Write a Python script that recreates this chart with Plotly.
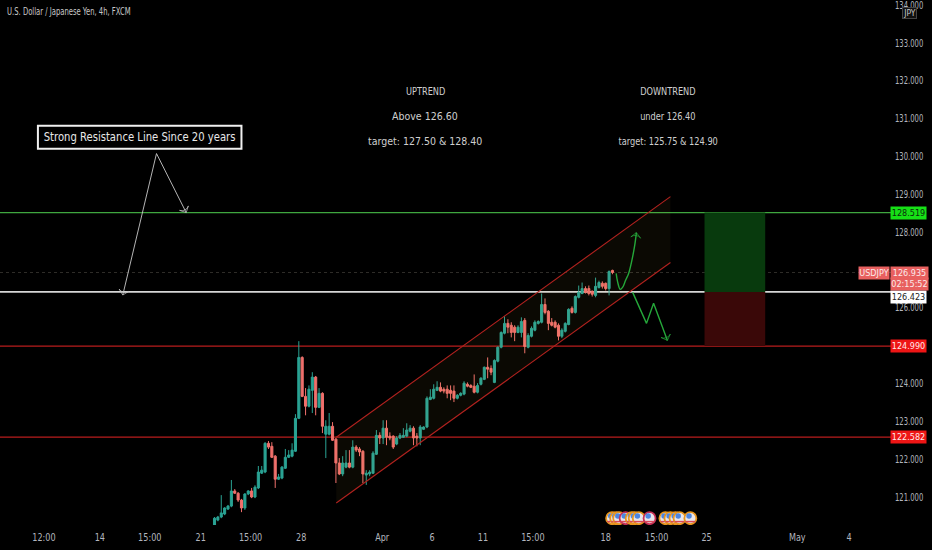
import plotly.graph_objects as go

FONT = "DejaVu Sans Condensed, Liberation Sans, sans-serif"

candle_index = list(range(119))
opens = [120.18,120.39,120.47,120.55,120.68,120.76,121.16,121.10,120.92,120.71,121.08,121.16,121.00,121.24,121.63,121.66,122.42,122.34,122.08,121.47,121.50,121.76,122.05,122.08,122.21,123.08,124.69,123.66,123.40,123.82,124.17,123.37,123.74,122.66,122.66,122.87,122.53,121.90,121.61,121.79,121.90,121.79,122.32,122.27,122.21,121.58,121.61,121.63,122.13,122.63,122.56,122.82,122.61,122.61,122.40,122.56,122.58,122.61,122.74,122.82,122.61,122.56,122.79,122.85,123.58,123.61,123.82,123.90,123.85,123.85,123.82,123.80,123.61,123.69,123.72,123.98,123.95,123.93,123.77,123.98,124.11,124.43,124.40,124.03,124.59,124.96,125.33,125.59,125.54,125.49,125.35,125.35,125.67,124.96,125.25,125.41,125.59,125.62,126.09,125.91,125.62,125.62,125.54,125.25,125.38,125.56,125.99,125.88,126.28,126.38,126.51,126.51,126.44,126.33,126.54,126.65,126.65,126.51,126.99]
highs = [120.47,120.50,121.05,120.73,120.79,121.45,121.21,121.13,120.95,121.10,121.18,121.24,121.31,121.82,121.82,122.45,122.48,122.45,122.11,121.61,121.82,122.27,122.24,122.42,123.19,125.12,124.72,123.88,123.95,124.30,124.20,123.88,123.77,123.03,123.22,122.98,122.56,122.03,122.08,122.24,122.24,122.50,122.37,122.32,122.24,121.71,121.71,122.21,122.77,122.71,123.03,123.03,122.71,122.63,122.61,122.69,122.82,122.95,122.90,122.87,122.69,122.90,122.87,123.66,123.85,123.98,124.06,124.03,123.90,123.95,123.95,123.95,123.72,123.77,124.06,124.03,123.98,124.24,124.01,124.17,124.45,124.69,124.48,124.64,124.98,125.38,125.78,125.70,125.62,125.54,125.54,125.75,125.73,125.33,125.51,125.67,125.67,126.38,126.25,125.94,125.73,125.67,125.59,125.46,125.62,125.99,126.04,126.33,126.59,126.67,126.57,126.59,126.46,126.80,126.72,126.70,126.67,126.99,127.01]
lows = [120.13,120.36,120.44,120.52,120.66,120.73,121.08,120.87,120.60,120.66,121.05,120.97,120.97,121.21,121.61,121.63,122.27,122.03,121.24,121.45,121.47,121.74,122.03,122.05,122.19,123.06,123.64,123.16,123.37,123.22,123.16,123.35,122.69,122.03,122.63,122.48,121.37,121.58,121.55,121.76,121.76,121.76,122.19,122.08,121.37,121.32,121.55,121.61,122.11,122.40,122.40,122.37,122.50,122.27,122.37,122.53,122.56,122.58,122.71,122.37,122.34,122.37,122.77,122.82,123.56,123.58,123.80,123.77,123.74,123.61,123.56,123.51,123.58,123.66,123.69,123.90,123.88,123.74,123.74,123.95,124.09,124.14,124.22,124.01,124.56,124.93,125.30,125.33,125.22,125.12,125.33,125.22,124.80,124.93,125.22,125.38,125.56,125.59,125.83,125.41,125.51,125.46,125.14,125.20,125.35,125.54,125.85,125.85,126.25,126.36,126.38,126.33,126.30,126.28,126.51,126.51,126.46,126.33,126.89]
closes = [120.44,120.47,120.58,120.71,120.76,121.16,121.10,120.92,120.71,121.08,121.16,121.00,121.26,121.66,121.71,122.42,122.32,122.05,121.47,121.53,121.79,122.05,122.11,122.24,123.08,124.69,123.66,123.40,123.85,124.17,123.37,123.74,122.87,122.87,122.87,122.50,121.90,121.61,121.90,121.90,121.79,122.32,122.24,122.19,121.61,121.63,121.66,122.16,122.63,122.56,122.82,122.58,122.56,122.32,122.56,122.63,122.63,122.77,122.82,122.56,122.56,122.85,122.85,123.61,123.64,123.85,123.90,123.80,123.80,123.74,123.74,123.61,123.69,123.74,124.01,123.93,123.90,123.77,123.95,124.14,124.43,124.38,124.30,124.61,124.96,125.35,125.59,125.49,125.35,125.35,125.49,125.64,124.98,125.27,125.46,125.62,125.64,126.09,125.88,125.59,125.54,125.49,125.25,125.41,125.59,125.96,125.88,126.30,126.41,126.51,126.41,126.38,126.36,126.57,126.67,126.57,126.51,126.96,126.935]

x_tick_vals = [-50.6,-34.0,-19.2,-4.1,10.7,25.7,49.7,64.5,79.6,94.4,116.0,131.1,145.9,172.8,188.2]
x_tick_text = ["12:00","14","15:00","21","15:00","28","Apr","6","11","15:00","18","15:00","25","May","4"]
y_tick_vals = [134,133,132,131,130,129,128,126,124,123,122,121]
y_tick_text = ["134.000","133.000","132.000","131.000","130.000","129.000","128.000","126.000","124.000","123.000","122.000","121.000"]

target_level = 128.519
entry_level = 126.423
stop_level = 124.990
support_level = 122.582
last_price = 126.935

channel_x = [36.1, 135.2]
channel_upper = [122.58, 128.94]
channel_lower = [120.84, 127.20]

box_x = [145.3, 163.3]

curve_up_x = [119.1,119.5,120.3,121.0,121.9,122.8,123.7,124.6,125.1]
curve_up_y = [126.91,126.70,126.49,126.54,126.73,126.91,127.23,127.65,127.99]
zigzag_x = [124.0,128.1,130.2,134.3]
zigzag_y = [126.41,125.59,126.12,125.14]

note_origin = [-17.2, 130.08]
note_ends_x = [-27.2, -8.4]
note_ends_y = [126.34, 128.52]

event_x = [117.9,119.1,120.0,121.9,123.7,124.6,125.8,129.0,133.7,135.2,136.7,137.9,141.1]
event_ring = ["#e8961e","#e8961e","#e8961e","#c62f55","#e8961e","#e8961e","#e8961e","#c62f55","#e8961e","#e8961e","#e8961e","#e8961e","#e8961e"]
event_level = 120.44

GREEN = "#2aa394"
RED = "#f0706c"
ARROW = "#25a83a"

fig = go.Figure()

fig.add_trace(go.Scatter(
    x=channel_x + channel_x[::-1], y=channel_upper + channel_lower[::-1],
    fill="toself", fillcolor="rgba(255,214,70,0.045)", mode="none", showlegend=False))

fig.add_trace(go.Candlestick(
    x=candle_index, open=opens, high=highs, low=lows, close=closes,
    increasing=dict(line=dict(color=GREEN, width=1), fillcolor=GREEN),
    decreasing=dict(line=dict(color=RED, width=1), fillcolor=RED),
    whiskerwidth=0, showlegend=False))

for ys in (channel_upper, channel_lower):
    fig.add_trace(go.Scatter(x=channel_x, y=ys, mode="lines",
                             line=dict(color="#b3221f", width=1.1), showlegend=False))

for xs, ys in ((curve_up_x, curve_up_y), (zigzag_x, zigzag_y)):
    fig.add_trace(go.Scatter(
        x=xs, y=ys, mode="lines+markers",
        line=dict(color=ARROW, width=1.4, shape="spline" if len(xs) > 4 else "linear"),
        marker=dict(symbol="arrow-wide-open", angleref="previous", color=ARROW,
                    size=[0] * (len(xs) - 1) + [7], line=dict(color=ARROW, width=1)),
        showlegend=False))

for ex, ey in zip(note_ends_x, note_ends_y):
    fig.add_trace(go.Scatter(
        x=[note_origin[0], ex], y=[note_origin[1], ey], mode="lines+markers",
        line=dict(color="#c8c8c8", width=0.9),
        marker=dict(symbol="arrow-wide-open", angleref="previous", color="#c8c8c8",
                    size=[0, 7], line=dict(color="#c8c8c8", width=1)),
        showlegend=False))

for ex, ring in zip(event_x, event_ring):
    fig.add_trace(go.Scatter(x=[ex], y=[event_level], mode="markers",
                             marker=dict(size=12, color="#e9e6ea", line=dict(color=ring, width=1.8)),
                             showlegend=False))
    fig.add_trace(go.Scatter(x=[ex - 0.4], y=[event_level + 0.06], mode="markers",
                             marker=dict(size=5.5, color="#4d86e0"), showlegend=False))
    fig.add_trace(go.Scatter(x=[ex], y=[event_level - 0.09], mode="markers",
                             marker=dict(size=7, symbol="line-ew", line=dict(color="#d9485a", width=1.5)),
                             showlegend=False))

shapes = [
    dict(type="rect", xref="x", yref="y", x0=box_x[0], x1=box_x[1], y0=entry_level, y1=target_level,
         fillcolor="#083a0d", line_width=0, layer="below"),
    dict(type="rect", xref="x", yref="y", x0=box_x[0], x1=box_x[1], y0=stop_level, y1=entry_level,
         fillcolor="#3a0808", line_width=0, layer="below"),
    dict(type="rect", xref="paper", yref="paper", x0=38 / 893, x1=242 / 893, y0=1 - 148 / 525, y1=1 - 125 / 525,
         fillcolor="#000000", line=dict(color="#f0f0f0", width=2), layer="above"),
]
for level, color, width, dash in (
    (last_price, "#2e2c28", 1, "dot"),
    (target_level, "#3fa63f", 1.1, "solid"),
    (entry_level, "#d6d6d6", 1.8, "solid"),
    (stop_level, "#b81c1c", 1.4, "solid"),
    (support_level, "#b81c1c", 1.4, "solid"),
):
    shapes.append(dict(type="line", xref="paper", yref="y", x0=0, x1=1, y0=level, y1=level,
                       line=dict(color=color, width=width, dash=dash), layer="below"))

ann = []


def text(x, y, s, size=10.5, color="#cfcfcf", xanchor="center", **kw):
    ann.append(dict(xref="paper", yref="paper", x=x / 893, y=1 - y / 525, text=s, showarrow=False,
                    xanchor=xanchor, yanchor="middle",
                    font=dict(family=FONT, size=size, color=color), **kw))


def tag(price, s, bg, fg, w=35):
    ann.append(dict(xref="paper", yref="y", x=892 / 893, y=price, xanchor="left", yanchor="middle",
                    text=s, showarrow=False, bgcolor=bg, width=w, height=12, borderpad=0,
                    font=dict(family=FONT, size=9, color=fg)))


text(5, 11, "U.S. Dollar / Japanese Yen, 4h, FXCM", size=11, color="#c8c8c8", xanchor="left")
for cx, lines in (
    (426, ("UPTREND", "Above 126.60", "target: 127.50 &amp; 128.40")),
    (670, ("DOWNTREND", "under 126.40", "target: 125.75 &amp; 124.90")),
):
    for cy, line in zip((90, 115, 140), lines):
        text(cx, cy, line)

text(140, 136, "Strong Resistance Line Since 20 years", size=13, color="#e8e8e8")

tag(target_level, "128.519", "#16e016", "#0c2b0c")
tag(126.30, "126.423", "#ffffff", "#222222")
tag(stop_level, "124.990", "#ee1515", "#ffe8e8")
tag(support_level, "122.582", "#ee1515", "#ffe8e8")
tag(last_price, "126.935", "#e8605f", "#fbeaea", w=37)
tag(126.63, "02:15:52", "#e8605f", "#fbeaea", w=37)
ann.append(dict(xref="paper", yref="y", x=892 / 893, y=last_price, xanchor="right", yanchor="middle",
                text="USDJPY", showarrow=False, bgcolor="#e8605f", width=30, height=12,
                borderpad=0, font=dict(family=FONT, size=9, color="#fbeaea")))
ann.append(dict(xref="paper", yref="paper", x=912 / 893, y=1 - 12.5 / 525, text="JPY", showarrow=False,
                xanchor="center", yanchor="middle",
                bgcolor="#111111", bordercolor="#444444", borderwidth=1, borderpad=0, width=13, height=10,
                font=dict(family=FONT, size=8.5, color="#c8c8c8")))

fig.update_layout(
    width=932, height=550,
    margin=dict(l=0, r=39, t=0, b=25),
    paper_bgcolor="#000000", plot_bgcolor="#000000",
    showlegend=False, shapes=shapes, annotations=ann, boxgap=0.12,
    font=dict(family=FONT, color="#b2b5be", size=10),
    xaxis=dict(range=[-63.61, 200.6], rangeslider=dict(visible=False), showgrid=False, zeroline=False,
               showline=False, tickmode="array", tickvals=x_tick_vals, ticktext=x_tick_text,
               ticks="", tickfont=dict(family=FONT, size=10, color="#b2b5be"), tickangle=0,
               ticklabelstandoff=5),
    yaxis=dict(range=[120.26, 134.113], side="right", showgrid=False, zeroline=False, showline=False,
               tickmode="array", tickvals=y_tick_vals, ticktext=y_tick_text, ticks="",
               tickfont=dict(family=FONT, size=10, color="#b2b5be"), ticklabelstandoff=3,
               ticklabeloverflow="allow"),
)

post = """
document.body.style.margin='0';document.body.style.background='#000';document.body.style.overflow='hidden';
function squeeze(el, f, centre) {
  if (el.dataset.sq) return;
  var b = el.getBBox();
  if (!b.width) return;
  var x0 = centre ? b.x + b.width / 2 : b.x;
  var t = el.getAttribute('transform') || '';
  el.setAttribute('transform', t + ' translate(' + x0 + ',0) scale(' + f + ',1) translate(' + (-x0) + ',0)');
  el.dataset.sq = '1';
}
function run() {
  document.querySelectorAll('.ytick text').forEach(function (e) { squeeze(e, 0.76, false); });
  document.querySelectorAll('.xtick text').forEach(function (e) { squeeze(e, 0.9, true); });
  document.querySelectorAll('.annotation-text').forEach(function (e) {
    var s = e.textContent;
    if (s.indexOf('U.S.') === 0) squeeze(e, 0.69, false);
    if (s.indexOf('Strong') === 0) squeeze(e, 0.86, true);
    if (s === 'UPTREND') squeeze(e, 0.87, true);
    if (s === 'DOWNTREND' || s.indexOf('under') === 0 || s.indexOf('target: 125') === 0) squeeze(e, 0.87, true);
  });
}
run();
setTimeout(run, 50);
"""
fig.write_html("out.html", config=dict(displayModeBar=False), post_script=post)
